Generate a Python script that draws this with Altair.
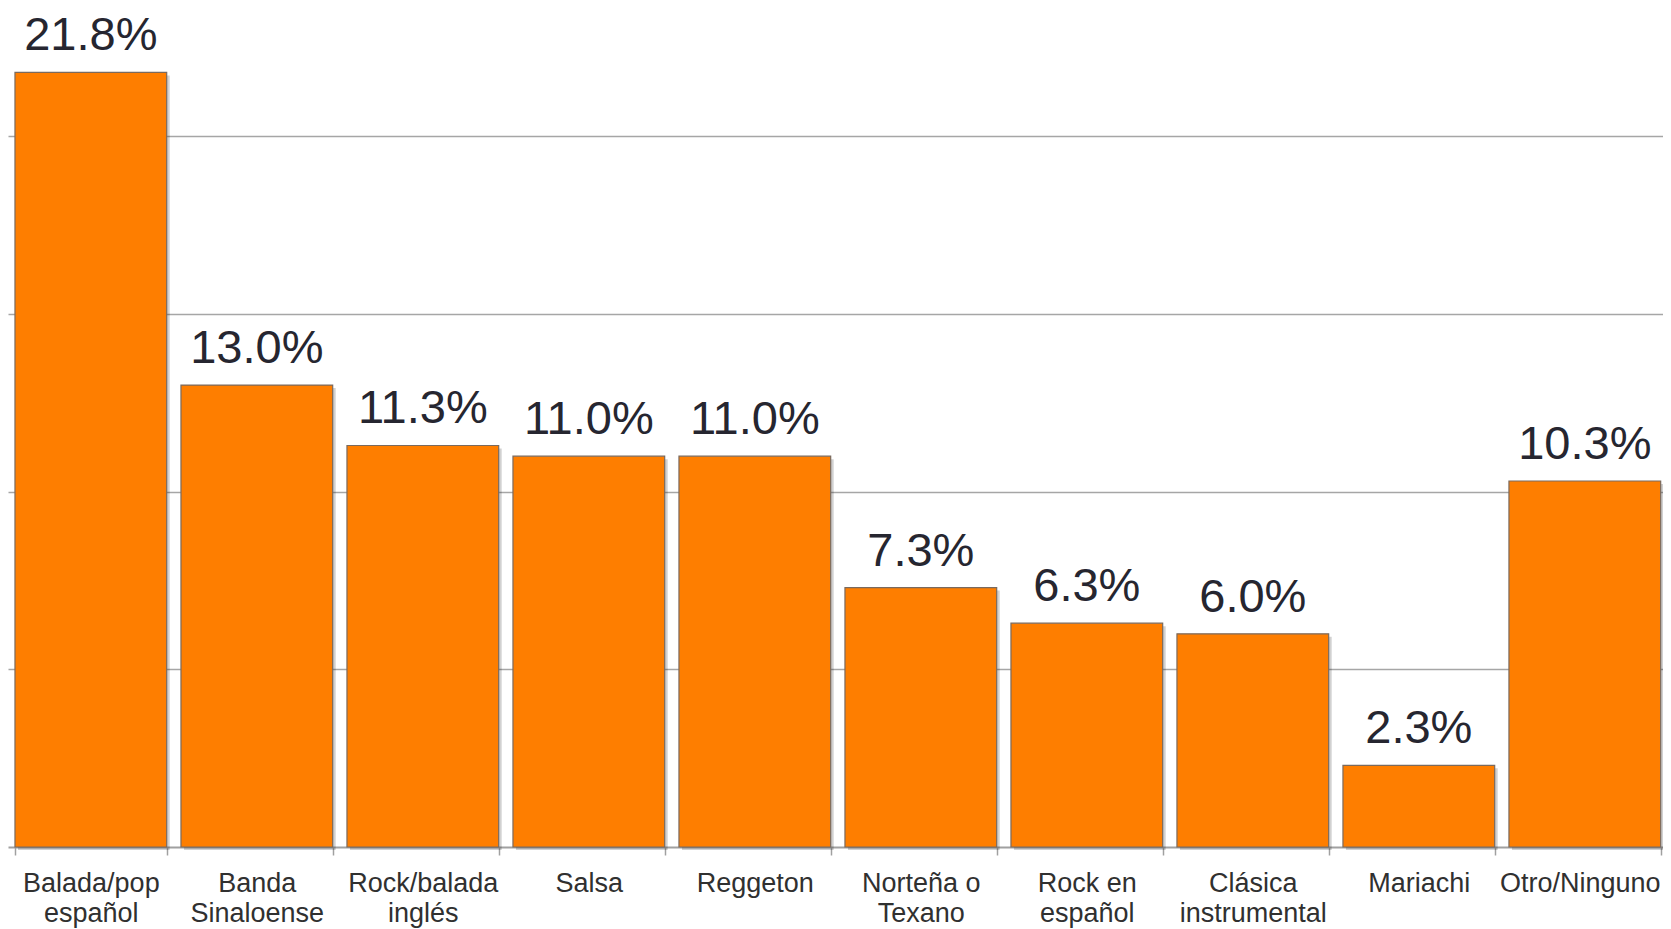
import altair as alt
import pandas as pd

categories = [
    "Balada/pop\nespañol",
    "Banda\nSinaloense",
    "Rock/balada\ninglés",
    "Salsa",
    "Reggeton",
    "Norteña o\nTexano",
    "Rock en\nespañol",
    "Clásica\ninstrumental",
    "Mariachi",
    "Otro/Ninguno",
]
values = [21.8, 13.0, 11.3, 11.0, 11.0, 7.3, 6.3, 6.0, 2.3, 10.3]
labels = [f"{v:.1f}%" for v in values]

df = pd.DataFrame({"cat": categories, "value": values, "label": labels})

xenc = alt.X(
    "cat:N",
    sort=None,
    scale=alt.Scale(paddingInner=0.086, paddingOuter=0.028, align=0.75),
    axis=alt.Axis(
        title=None,
        labelAngle=0,
        labelExpr="split(datum.label, '\\n')",
        labelFont="Liberation Sans",
        labelFontSize=27,
        labelColor="#303030",
        labelBaseline="alphabetic",
        labelLineHeight=30,
        labelPadding=36,
        labelOffset={
            "condition": {"test": "datum.value == 'Otro/Ninguno'", "value": -5},
            "value": 0,
        },
        tickSize=8,
        tickColor="#a0a0a0",
        tickWidth=1.5,
        tickBand="extent",
        domainColor="#a0a0a0",
        domainWidth=2,
        grid=False,
    ),
)
yenc = alt.Y(
    "value:Q",
    scale=alt.Scale(domain=[0, 23.5], nice=False),
    axis=alt.Axis(
        title=None,
        values=[5, 10, 15, 20],
        labels=False,
        ticks=False,
        domain=False,
        grid=True,
        gridColor="#a6a6a6",
        gridWidth=1.5,
    ),
)

base = alt.Chart(df)

shadow = base.mark_bar(
    color="#000000", opacity=0.18, xOffset=3, yOffset=3, y2Offset=0
).encode(x=xenc, y=yenc)

bars = base.mark_bar(
    color="#FE7E00", stroke="#7a6a5e", strokeWidth=1.2
).encode(x=xenc, y=yenc)

text = base.mark_text(
    font="Liberation Sans",
    fontSize=47,
    color="#262630",
    baseline="alphabetic",
    dy=-22,
).encode(x=xenc, y=yenc, text="label:N")

chart = (
    alt.layer(shadow, bars, text)
    .properties(
        width=1655,
        height=835,
        background="white",
        autosize=alt.AutoSizeParams(type="none"),
        padding={"left": 0, "top": 4, "right": 0, "bottom": 82},
    )
    .configure_view(stroke="transparent", strokeWidth=0)
)

chart.save("out.html", embed_options={"renderer": "svg", "actions": False})
